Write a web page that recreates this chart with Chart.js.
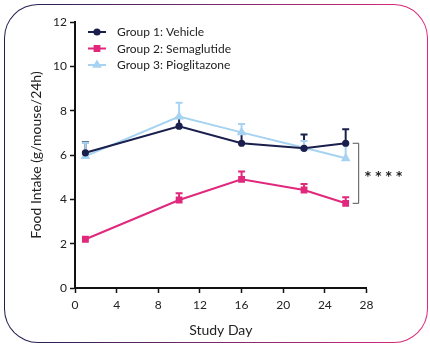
<!DOCTYPE html>
<html>
<head>
<meta charset="utf-8">
<script src="https://cdn.jsdelivr.net/npm/chart.js@4/dist/chart.umd.min.js"></script>
<style>
    html, body { margin: 0; padding: 0; background: #fff; }
    #wrap { position: relative; width: 430px; height: 345px; overflow: hidden; }
    /* rounded card outline, navy fading to pink */
    #frame {
        position: absolute; left: 4px; top: 4px; width: 422px; height: 337px;
        border: 1.5px solid transparent; border-radius: 34px;
        background: linear-gradient(#fff, #fff) padding-box,
                    linear-gradient(90deg, #1c1f4f, #7a2a6a 50%, #e0287c) border-box;
    }
    #foodChart { position: absolute; left: 0; top: 0; }
</style>
</head>
<body>
<div id="wrap">
    <div id="frame"></div>
    <canvas id="foodChart" width="430" height="345"></canvas>
</div>
<script>
// Study data (mean food intake, g/mouse/24h, with SEM)
const studyDays = [1, 10, 16, 22, 26];
const groupNames = ['Group 1: Vehicle', 'Group 2: Semaglutide', 'Group 3: Pioglitazone'];
const vehicleMean = [6.1, 7.3, 6.53, 6.3, 6.53];
const vehicleSem = [0.47, 0.38, 0.45, 0.62, 0.63];
const semaMean = [2.2, 3.97, 4.9, 4.42, 3.82];
const semaSem = [0.05, 0.3, 0.36, 0.27, 0.27];
const pioMean = [5.95, 7.73, 7.02, 6.33, 5.85];
const pioSem = [0.6, 0.63, 0.38, 0.3, 0.65];
const xTicks = [0, 4, 8, 12, 16, 20, 24, 28];
const yTicks = [0, 2, 4, 6, 8, 10, 12];
const sigLabel = '* * * *';

const FONT = 'Lato, "Open Sans", sans-serif';
const colors = ['#1b1f4d', '#e0287c', '#a6d3f2'];
const markers = ['circle', 'rect', 'triangle'];
const markerSize = [2.6, 3.4, 3.6];

function points(means) {
    return studyDays.map((d, i) => ({ x: d, y: means[i] }));
}

const semSets = [vehicleSem, semaSem, pioSem];

// Upward SEM whiskers with a small cap
const errorBars = {
    id: 'errorBars',
    beforeDatasetsDraw(chart) {
        const { ctx, scales: { x, y } } = chart;
        ctx.save();
        ctx.lineWidth = 2;
        chart.data.datasets.forEach((ds, di) => {
            ctx.strokeStyle = ds.borderColor;
            ds.data.forEach((p, i) => {
                const px = x.getPixelForValue(p.x);
                const y0 = y.getPixelForValue(p.y);
                const y1 = y.getPixelForValue(p.y + semSets[di][i]);
                ctx.beginPath();
                ctx.moveTo(px, y0);
                ctx.lineTo(px, y1);
                ctx.moveTo(px - 3.5, y1);
                ctx.lineTo(px + 3.5, y1);
                ctx.stroke();
            });
        });
        ctx.restore();
    }
};

// Legend block in the top-left of the plot, plus the significance bracket
const extras = {
    id: 'extras',
    afterDraw(chart) {
        const { ctx, scales: { x, y } } = chart;
        ctx.save();
        ctx.font = '12px ' + FONT;
        ctx.textBaseline = 'middle';
        const rows = [32, 48.5, 65];
        groupNames.forEach((name, i) => {
            const ly = rows[i];
            ctx.strokeStyle = colors[i];
            ctx.lineWidth = 2;
            ctx.beginPath();
            ctx.moveTo(88, ly);
            ctx.lineTo(106, ly);
            ctx.stroke();
            Chart.helpers.drawPoint(ctx, {
                pointStyle: markers[i], radius: markerSize[i], borderWidth: 1
            }, 97, ly);
            ctx.fillStyle = colors[i];
            ctx.fill();
            ctx.fillStyle = '#222';
            ctx.fillText(name, 117, ly + 0.5);
        });

        // bracket between vehicle and semaglutide at the last day
        const last = studyDays.length - 1;
        const bx = x.getPixelForValue(studyDays[last]) + 13;
        const top = y.getPixelForValue(vehicleMean[last]);
        const bot = y.getPixelForValue(semaMean[last]);
        ctx.strokeStyle = '#555';
        ctx.lineWidth = 1;
        ctx.beginPath();
        ctx.moveTo(bx - 6, top);
        ctx.lineTo(bx, top);
        ctx.lineTo(bx, bot);
        ctx.lineTo(bx - 6, bot);
        ctx.stroke();
        ctx.fillStyle = '#222';
        ctx.font = 'bold 12px "DejaVu Sans", sans-serif';
        ctx.fillText(sigLabel, bx + 6, (top + bot) / 2 + 4);
        ctx.restore();
    }
};

new Chart(document.getElementById('foodChart'), {
    type: 'line',
    data: {
        datasets: [
            { label: groupNames[0], data: points(vehicleMean) },
            { label: groupNames[1], data: points(semaMean) },
            { label: groupNames[2], data: points(pioMean) }
        ].map((ds, i) => Object.assign(ds, {
            borderColor: colors[i],
            backgroundColor: colors[i],
            pointBackgroundColor: colors[i],
            pointBorderColor: colors[i],
            pointStyle: markers[i],
            pointRadius: markerSize[i],
            borderWidth: 2,
            tension: 0
        }))
    },
    options: {
        responsive: false,
        animation: false,
        layout: { padding: { top: 22, right: 63.5, left: 0, bottom: 0 } },
        plugins: {
            legend: { display: false },
            tooltip: { enabled: false }
        },
        scales: {
            x: {
                type: 'linear',
                min: 0,
                max: 28,
                afterBuildTicks: s => { s.ticks = xTicks.map(v => ({ value: v })); },
                afterFit: s => { s.height = 57; },
                grid: { drawOnChartArea: false, drawTicks: true, tickLength: 5, tickWidth: 1.5, tickColor: '#111' },
                border: { display: true, color: '#111', width: 2 },
                ticks: { color: '#222', padding: 5, font: { family: FONT, size: 12 } },
                title: { display: true, text: 'Study Day', color: '#222', padding: 6, font: { family: FONT, size: 14 } }
            },
            y: {
                min: 0,
                max: 12,
                afterBuildTicks: s => { s.ticks = yTicks.map(v => ({ value: v })); },
                afterFit: s => { s.width = 75; },
                grid: { drawOnChartArea: false, drawTicks: true, tickLength: 5, tickWidth: 1.5, tickColor: '#111' },
                border: { display: true, color: '#111', width: 2 },
                ticks: { color: '#222', padding: 3, font: { family: FONT, size: 12 } },
                title: { display: true, text: 'Food Intake (g/mouse/24h)', color: '#222', padding: 28, font: { family: FONT, size: 14 } }
            }
        }
    },
    plugins: [errorBars, extras]
});
</script>
</body>
</html>
